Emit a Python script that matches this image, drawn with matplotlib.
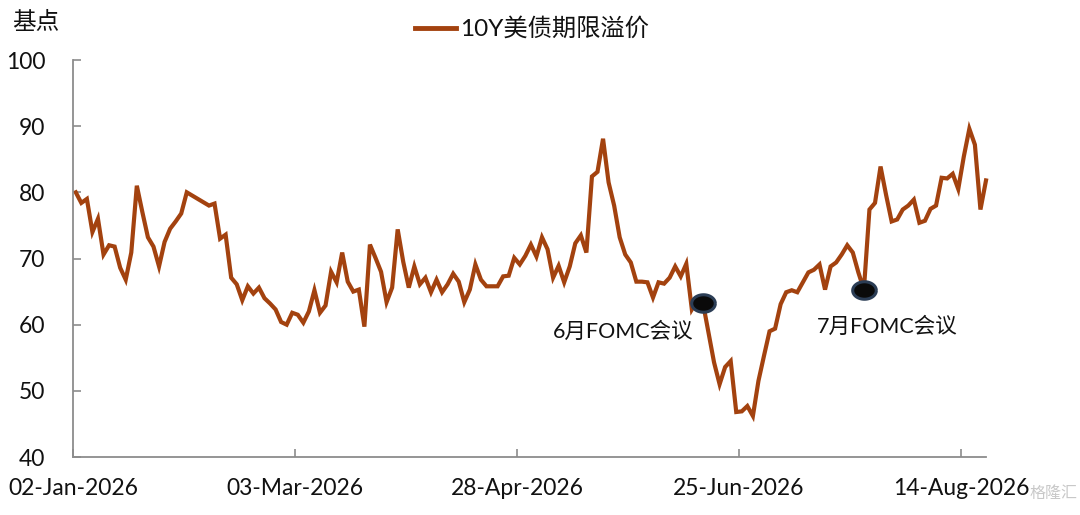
import matplotlib
matplotlib.use("Agg")
import matplotlib.pyplot as plt
import matplotlib.path as mpath
import numpy as np

plt.rcParams['font.family'] = ['Lato', 'Noto Sans CJK SC', 'DejaVu Sans']

series_name = "10Y美债期限溢价"
y_unit = "基点"

values = [
    80.0, 78.4, 79.0, 74.0, 76.0, 70.6, 72.0, 71.8, 68.6, 66.8,
    70.9, 81.0, 77.0, 73.2, 71.8, 68.8, 72.5, 74.5, 75.6, 76.8,
    80.0, 79.5, 79.0, 78.5, 78.0, 78.3, 73.0, 73.6, 67.1, 66.1,
    63.7, 65.8, 64.7, 65.6, 64.0, 63.2, 62.3, 60.4, 60.0, 61.8,
    61.5, 60.3, 62.0, 65.2, 61.8, 62.9, 68.0, 66.4, 70.9, 66.5,
    65.0, 65.3, 59.7, 72.1, 70.1, 68.0, 63.4, 65.6, 74.4, 69.5,
    65.6, 68.8, 66.1, 67.1, 64.9, 66.8, 64.9, 66.1, 67.7, 66.5,
    63.4, 65.3, 69.1, 66.8, 65.8, 65.8, 65.8, 67.3, 67.4, 70.1,
    69.1, 70.4, 72.1, 70.3, 73.2, 71.4, 67.1, 68.9, 66.4, 68.8,
    72.3, 73.5, 70.9, 82.4, 83.1, 88.1, 81.5, 78.0, 73.2, 70.6,
    69.4, 66.5, 66.5, 66.4, 64.1, 66.4, 66.2, 67.1, 68.8, 67.3,
    69.2, 62.3, 63.7, 63.3, 58.8, 54.3, 51.0, 53.6, 54.5, 46.8,
    46.9, 47.7, 46.2, 51.5, 55.3, 59.0, 59.4, 63.1, 64.9, 65.2,
    64.9, 66.4, 67.9, 68.3, 69.1, 65.3, 68.8, 69.4, 70.6, 72.0,
    70.9, 67.9, 65.3, 77.4, 78.4, 83.9, 79.6, 75.6, 75.9, 77.4,
    78.0, 78.9, 75.4, 75.7, 77.5, 78.0, 82.2, 82.1, 82.8, 80.5,
    85.4, 89.6, 87.2, 77.4, 81.8,
]

tick_labels = ["02-Jan-2026", "03-Mar-2026", "28-Apr-2026", "25-Jun-2026", "14-Aug-2026"]
tick_index = [0, 40, 80, 120, 160]

events = ["6月FOMC会议", "7月FOMC会议"]
event_index = [113, 142]

y_ticks = [40, 50, 60, 70, 80, 90, 100]

line_color = '#A3420F'

fig = plt.figure(figsize=(10.8, 5.15), dpi=100)
ax = fig.add_axes([73/1080, 1-457/515, (986-73)/1080, (457-60)/515])

x = np.arange(len(values))
ax.plot(x, values, color=line_color, lw=3.0, solid_joinstyle='miter', zorder=2, clip_on=False)

# event markers (horizontal ellipse)
t = np.linspace(0, 2*np.pi, 60)
ell = mpath.Path(np.column_stack([1.35*np.cos(t), np.sin(t)]))
ex = list(event_index)
ey = [values[i] for i in ex]
ax.plot(ex, ey, linestyle='none', marker=ell, markersize=17,
        markerfacecolor='#0a0a0a', markeredgecolor='#2b3d55', markeredgewidth=2.2, zorder=3)

ax.text(ex[0] - 14.3, ey[0] - 4.4, events[0], fontsize=15.5, ha='center', va='center', color='#111111')
ax.text(ex[1] + 4.2, ey[1] - 5.6, events[1], fontsize=15.5, ha='center', va='center', color='#111111')

ax.set_xlim(-0.5, 164.0)
ax.set_ylim(40, 100)
ax.set_yticks(y_ticks)
ax.set_xticks([i - 0.5 for i in tick_index])
ax.set_xticklabels(tick_labels)

for s in ['top', 'right']:
    ax.spines[s].set_visible(False)
for s in ['left', 'bottom']:
    ax.spines[s].set_color('#8c8c8c')
    ax.spines[s].set_linewidth(1.3)

ax.tick_params(axis='both', direction='in', length=6, width=1.2, color='#8c8c8c',
               labelsize=16.5, labelcolor='#111111')
ax.tick_params(axis='y', pad=20)
ax.tick_params(axis='x', pad=15)

fig.text(12/1080, 1-22/515, y_unit, fontsize=17, ha='left', va='center', color='#111111')

# legend
fig.lines.append(plt.Line2D([415/1080, 456/1080], [1-28/515, 1-28/515], transform=fig.transFigure,
                            color=line_color, lw=3.5))
fig.text(460/1080, 1-28/515, series_name, fontsize=17.5, ha='left', va='center', color='#111111')

# watermark
fig.text(1078/1080, 1-494/515, "格隆汇", fontsize=11.5, ha='right', va='center', color='#c8c8c8')

fig.savefig("out.png", dpi=100)
